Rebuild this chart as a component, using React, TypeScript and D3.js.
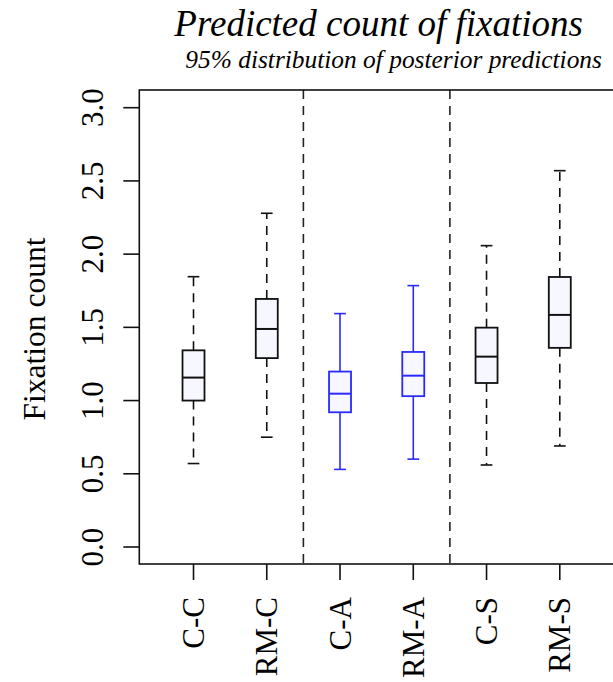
import React from "react";
import * as d3 from "d3";

const categories = ["C-C", "RM-C", "C-A", "RM-A", "C-S", "RM-S"];
const lowerWhisker = [0.57, 0.75, 0.53, 0.6, 0.56, 0.69];
const q1 = [1.0, 1.29, 0.92, 1.03, 1.12, 1.36];
const medians = [1.157, 1.489, 1.047, 1.17, 1.3, 1.585];
const q3 = [1.343, 1.694, 1.198, 1.332, 1.498, 1.844];
const upperWhisker = [1.846, 2.279, 1.594, 1.785, 2.058, 2.57];
const yTicks = [0, 0.5, 1, 1.5, 2, 2.5, 3];
const dividers = [2.5, 4.5];
const highlighted = ["C-A", "RM-A"];

const W = 613;
const H = 682;
const FONT = "Liberation Serif, Times New Roman, serif";

export default function App() {
  const x = d3.scaleLinear().domain([0.26, 6.74]).range([139.3, 614]);
  const y = d3.scaleLinear().domain([0, 3]).range([547, 107.7]);
  const top = 90;
  const bottom = 564;
  const left = 139.3;
  const right = 614;
  const boxHalf = x(1.15) - x(1);
  const capHalf = x(1.08) - x(1);
  const blue = "#2a2aff";
  const fill = "#f7f7ff";
  const textStyle = { fontFamily: FONT };

  return (
    <svg
      width={W}
      height={H}
      style={{ position: "absolute", left: 0, top: 0, background: "white" }}
    >
      {/* titles */}
      <text x={(left + right) / 2 + 2} y={36} textAnchor="middle" fontSize={37} fontStyle="italic" style={textStyle}>
        Predicted count of fixations
      </text>
      <text x={(left + right) / 2 + 17} y={68} textAnchor="middle" fontSize={25.4} fontStyle="italic" style={textStyle}>
        95% distribution of posterior predictions
      </text>

      {/* dividers */}
      {dividers.map((d, i) => (
        <line
          key={i}
          x1={x(d)}
          x2={x(d)}
          y1={top}
          y2={bottom}
          stroke="#222"
          strokeWidth={1.6}
          strokeDasharray="9,7"
        />
      ))}

      {/* boxes */}
      {categories.map((c, i) => {
        const cx = x(i + 1);
        const isBlue = highlighted.includes(c);
        const col = isBlue ? blue : "#111";
        const dash = isBlue ? undefined : "9,7";
        return (
          <g key={c}>
            <line x1={cx} x2={cx} y1={y(q3[i])} y2={y(upperWhisker[i])} stroke={col} strokeWidth={1.6} strokeDasharray={dash} />
            <line x1={cx} x2={cx} y1={y(q1[i])} y2={y(lowerWhisker[i])} stroke={col} strokeWidth={1.6} strokeDasharray={dash} />
            <line x1={cx - capHalf} x2={cx + capHalf} y1={y(upperWhisker[i])} y2={y(upperWhisker[i])} stroke={col} strokeWidth={1.6} />
            <line x1={cx - capHalf} x2={cx + capHalf} y1={y(lowerWhisker[i])} y2={y(lowerWhisker[i])} stroke={col} strokeWidth={1.6} />
            <rect
              x={cx - boxHalf}
              y={y(q3[i])}
              width={boxHalf * 2}
              height={y(q1[i]) - y(q3[i])}
              fill={fill}
              stroke={col}
              strokeWidth={1.8}
            />
            <line x1={cx - boxHalf} x2={cx + boxHalf} y1={y(medians[i])} y2={y(medians[i])} stroke={col} strokeWidth={2} />
          </g>
        );
      })}

      {/* frame */}
      <rect x={left} y={top} width={right - left} height={bottom - top} fill="none" stroke="#111" strokeWidth={1.6} />

      {/* y axis */}
      {yTicks.map((t) => (
        <g key={t}>
          <line x1={left - 16} x2={left} y1={y(t)} y2={y(t)} stroke="#111" strokeWidth={1.6} />
          <text
            x={103}
            y={y(t)}
            transform={`rotate(-90, 103, ${y(t)})`}
            textAnchor="middle"
            fontSize={31}
            style={textStyle}
          >
            {t.toFixed(1)}
          </text>
        </g>
      ))}
      <text
        x={45}
        y={329}
        transform="rotate(-90, 45, 329)"
        textAnchor="middle"
        fontSize={31.5}
        style={textStyle}
      >
        Fixation count
      </text>

      {/* x axis */}
      {categories.map((c, i) => {
        const cx = x(i + 1);
        return (
          <g key={c}>
            <line x1={cx} x2={cx} y1={bottom} y2={bottom + 16} stroke="#111" strokeWidth={1.6} />
            <text
              x={cx + 10.5}
              y={597}
              transform={`rotate(-90, ${cx + 10.5}, 597)`}
              textAnchor="end"
              fontSize={31}
              style={textStyle}
            >
              {c}
            </text>
          </g>
        );
      })}
    </svg>
  );
}
